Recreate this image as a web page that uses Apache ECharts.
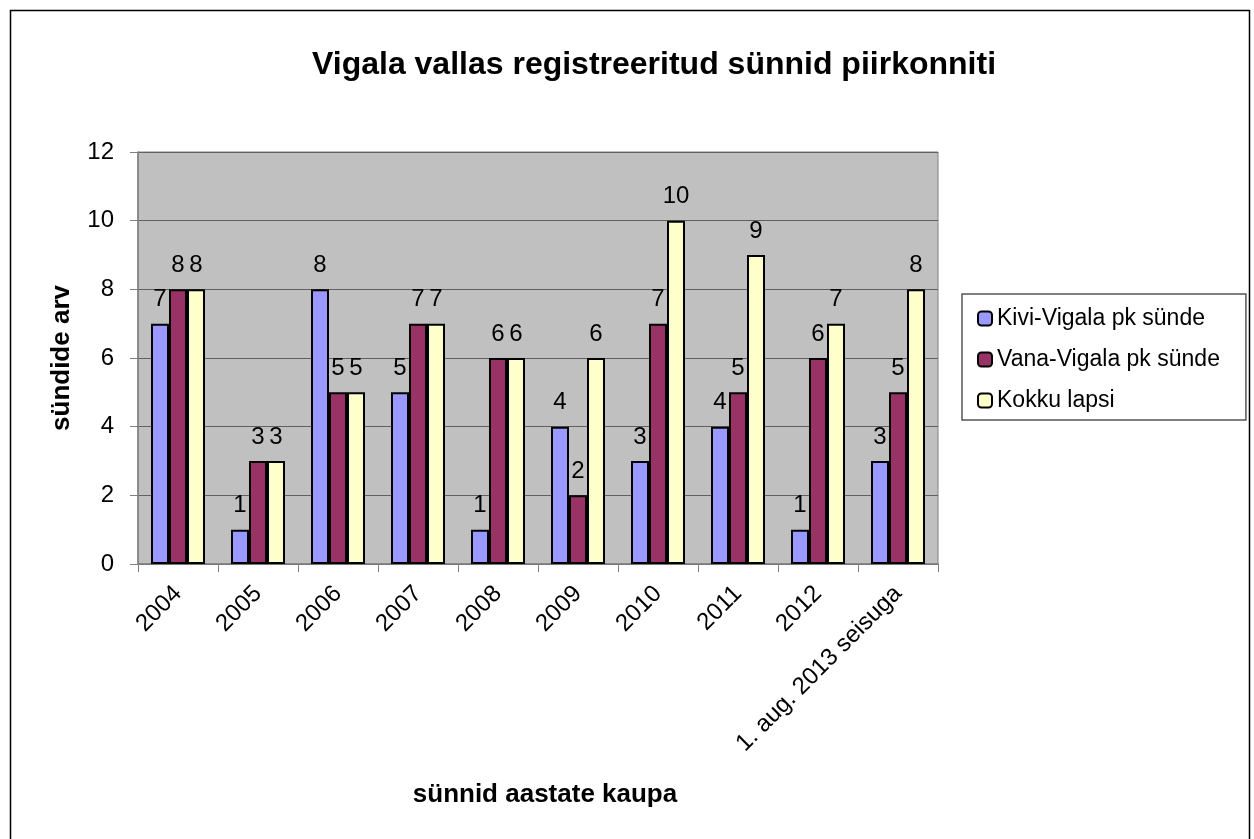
<!DOCTYPE html>
<html lang="et">
<head>
<meta charset="UTF-8">
<title>Vigala vallas registreeritud sünnid piirkonniti</title>
<style>
  * { margin: 0; padding: 0; }
  html, body { width: 1254px; height: 839px; background: #fff; overflow: hidden; }
  #chart { width: 1254px; height: 839px; }
</style>
</head>
<body>
<div id="chart"></div>
<script src="https://cdn.jsdelivr.net/npm/echarts@6/dist/echarts.min.js"></script>
<script>
var years = ['2004', '2005', '2006', '2007', '2008', '2009', '2010', '2011', '2012', '1. aug. 2013 seisuga'];
var kiviVigala = [7, 1, 8, 5, 1, 4, 3, 4, 1, 3];
var vanaVigala = [8, 3, 5, 7, 6, 2, 7, 5, 6, 5];
var kokkuLapsi = [8, 3, 5, 7, 6, 6, 10, 9, 7, 8];

var fontFam = 'Liberation Sans, Arial, sans-serif';

var myChart = echarts.init(document.getElementById('chart'));

function barSeries(name, data, color) {
    return {
        type: 'bar',
        name: name,
        data: data,
        barWidth: 18,
        barGap: 0,
        itemStyle: {
            color: color,
            borderColor: '#000',
            borderWidth: 2
        },
        label: {
            show: true,
            position: 'top',
            distance: 12,
            color: '#000',
            fontSize: 24,
            fontFamily: fontFam
        }
    };
}

var option = {
    animation: false,
    textStyle: { fontFamily: fontFam },
    graphic: [{
        type: 'rect',
        shape: { x: 10.5, y: 10.5, width: 1239, height: 840 },
        style: { fill: null, stroke: '#000', lineWidth: 1.5 },
        silent: true
    }],
    title: {
        text: 'Vigala vallas registreeritud sünnid piirkonniti',
        left: 649,
        textAlign: 'center',
        top: 44,
        textStyle: { fontSize: 32, fontWeight: 'bold', color: '#000', fontFamily: fontFam }
    },
    legend: {
        orient: 'vertical',
        left: 962,
        top: 294,
        padding: [13, 26, 8, 15],
        borderColor: '#555',
        borderWidth: 1.5,
        backgroundColor: '#fff',
        itemWidth: 14,
        itemHeight: 14,
        itemGap: 18,
        textStyle: { fontSize: 23, color: '#000', fontFamily: fontFam },
        data: ['Kivi-Vigala pk sünde', 'Vana-Vigala pk sünde', 'Kokku lapsi']
    },
    grid: {
        left: 138,
        top: 152,
        width: 800,
        height: 412,
        show: true,
        backgroundColor: '#c0c0c0',
        borderColor: '#808080',
        borderWidth: 1
    },
    xAxis: {
        type: 'category',
        data: years,
        name: 'sünnid aastate kaupa',
        nameLocation: 'middle',
        nameGap: 218,
        nameTextStyle: { fontSize: 26, fontWeight: 'bold', color: '#000', padding: [0, 0, 0, 14] },
        axisLine: { lineStyle: { color: '#808080', width: 1.5 } },
        axisTick: { show: true, length: 8, lineStyle: { color: '#808080' } },
        axisLabel: { rotate: 45, fontSize: 24, color: '#000', margin: 26 }
    },
    yAxis: {
        type: 'value',
        min: 0,
        max: 12,
        interval: 2,
        name: 'sündide arv',
        nameLocation: 'middle',
        nameGap: 63,
        nameTextStyle: { fontSize: 26, fontWeight: 'bold', color: '#000' },
        axisLine: { show: true, lineStyle: { color: '#808080', width: 1.5 } },
        axisTick: { show: true, length: 8, lineStyle: { color: '#808080' } },
        axisLabel: { fontSize: 24, color: '#000', margin: 24 },
        splitLine: { lineStyle: { color: '#606060', width: 1 } }
    },
    series: [
        barSeries('Kivi-Vigala pk sünde', kiviVigala, '#9999ff'),
        barSeries('Vana-Vigala pk sünde', vanaVigala, '#993366'),
        barSeries('Kokku lapsi', kokkuLapsi, '#ffffcc')
    ]
};
myChart.setOption(option);
</script>
</body>
</html>
